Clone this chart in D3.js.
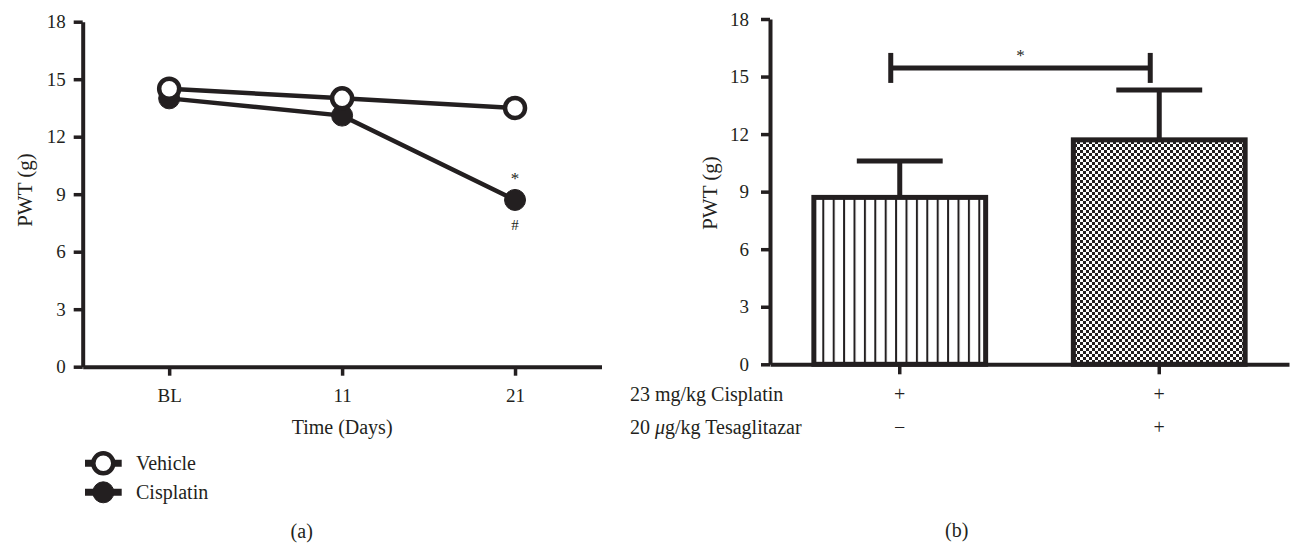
<!DOCTYPE html>
<html lang="en">

<head>
  <meta charset="UTF-8">
  <title>PWT</title>
  <style>
    * {
      padding: 0;
      margin: 0;
    }

    body {
      background: #fff;
    }

    svg text {
      font-family: "Liberation Serif", "Times New Roman", serif;
      fill: #231f20;
    }
  </style>
</head>

<body>
  <svg id="svg"></svg>
  <script src="https://cdnjs.cloudflare.com/ajax/libs/d3/7.8.5/d3.min.js"></script>
  <script>
    // panel (a)
    const days = ['BL', '11', '21']
    const vehicle = [14.5, 14.0, 13.5]
    const cisplatin = [14.0, 13.1, 8.7]
    const yTicks = [0, 3, 6, 9, 12, 15, 18]
    const seriesNames = ['Vehicle', 'Cisplatin']

    // panel (b)
    const groups = ['cis', 'cis+tesa']
    const barMeans = [8.7, 11.7]
    const barErrors = [1.9, 2.6]
    const cisplatinRow = ['+', '+']
    const tesaRow = ['\u2212', '+']
    const bracketValue = 15.45

    const ink = '#231f20'

    const svg = d3.select('#svg')
      .attr('width', 1290)
      .attr('height', 546)

    const defs = svg.append('defs')

    const stripes = defs.append('pattern')
      .attr('id', 'stripes')
      .attr('patternUnits', 'userSpaceOnUse')
      .attr('x', 822.3)
      .attr('y', 0)
      .attr('width', 10.4)
      .attr('height', 10)
    stripes.append('rect').attr('width', 10.4).attr('height', 10).attr('fill', '#fff')
    stripes.append('rect').attr('x', 0).attr('width', 2).attr('height', 10).attr('fill', ink)

    const checker = defs.append('pattern')
      .attr('id', 'checker')
      .attr('patternUnits', 'userSpaceOnUse')
      .attr('width', 6)
      .attr('height', 6)
    checker.append('rect').attr('width', 6).attr('height', 6).attr('fill', '#fff')
    checker.append('rect').attr('width', 3).attr('height', 3).attr('fill', ink)
    checker.append('rect').attr('x', 3).attr('y', 3).attr('width', 3).attr('height', 3).attr('fill', ink)

    function styleAxis(g, size) {
      g.select('.domain').attr('stroke', ink).attr('stroke-width', 4)
      g.selectAll('.tick line').attr('stroke', ink).attr('stroke-width', 3.5)
      g.selectAll('.tick text').attr('fill', ink).style('font-size', size + 'px')
        .style('font-family', '"Liberation Serif", serif')
    }

    // ---------- (a) line chart ----------
    const yA = d3.scaleLinear().domain([0, 18]).range([366.7, 21.7])
    const xA = d3.scalePoint().domain(days).range([82.7, 601.5]).padding(0.5)

    svg.append('g')
      .attr('transform', `translate(82.7,0)`)
      .call(d3.axisLeft(yA).tickValues(yTicks).tickSize(9).tickSizeOuter(0).tickPadding(8))
      .call(g => styleAxis(g, 19))

    svg.append('g')
      .attr('transform', `translate(0,366.7)`)
      .call(d3.axisBottom(xA).tickSize(9).tickSizeOuter(0).tickPadding(13))
      .call(g => styleAxis(g, 19))

    const line = d3.line()
      .x((d, i) => xA(days[i]))
      .y(d => yA(d))

    // cisplatin under vehicle
    svg.append('path')
      .datum(cisplatin)
      .attr('d', line)
      .attr('fill', 'none')
      .attr('stroke', ink)
      .attr('stroke-width', 4.5)

    svg.append('g')
      .selectAll('circle')
      .data(cisplatin)
      .join('circle')
      .attr('cx', (d, i) => xA(days[i]))
      .attr('cy', d => yA(d))
      .attr('r', 10.5)
      .attr('fill', ink)
      .attr('stroke', ink)
      .attr('stroke-width', 1)

    svg.append('path')
      .datum(vehicle)
      .attr('d', line)
      .attr('fill', 'none')
      .attr('stroke', ink)
      .attr('stroke-width', 4.5)

    svg.append('g')
      .selectAll('circle')
      .data(vehicle)
      .join('circle')
      .attr('cx', (d, i) => xA(days[i]))
      .attr('cy', d => yA(d))
      .attr('r', 10)
      .attr('fill', '#fff')
      .attr('stroke', ink)
      .attr('stroke-width', 4.5)

    const lastX = xA(days[2])
    const lastY = yA(cisplatin[2])
    svg.append('text')
      .attr('x', lastX)
      .attr('y', lastY - 16)
      .attr('text-anchor', 'middle')
      .style('font-size', '17px')
      .text('*')
    svg.append('text')
      .attr('x', lastX)
      .attr('y', lastY + 30)
      .attr('text-anchor', 'middle')
      .style('font-size', '15px')
      .text('#')

    svg.append('text')
      .attr('transform', 'translate(31.5,190) rotate(-90)')
      .attr('text-anchor', 'middle')
      .style('font-size', '21px')
      .text('PWT (g)')

    svg.append('text')
      .attr('x', xA('11'))
      .attr('y', 434)
      .attr('text-anchor', 'middle')
      .style('font-size', '20px')
      .text('Time (Days)')

    // legend
    const legend = svg.append('g')
      .selectAll('g')
      .data(seriesNames)
      .join('g')
      .attr('transform', (d, i) => `translate(0,${463.3 + i * 29})`)

    legend.append('line')
      .attr('x1', 85)
      .attr('x2', 121.7)
      .attr('stroke', ink)
      .attr('stroke-width', 7)
    legend.append('circle')
      .attr('cx', 103.3)
      .attr('r', (d, i) => i === 0 ? 10 : 10.5)
      .attr('fill', (d, i) => i === 0 ? '#fff' : ink)
      .attr('stroke', ink)
      .attr('stroke-width', (d, i) => i === 0 ? 4.5 : 1)
    legend.append('text')
      .attr('x', 136)
      .attr('y', 7)
      .style('font-size', '20px')
      .text(d => d)

    svg.append('text')
      .attr('x', 301.7)
      .attr('y', 538)
      .attr('text-anchor', 'middle')
      .style('font-size', '20px')
      .text('(a)')

    // ---------- (b) bar chart ----------
    const yB = d3.scaleLinear().domain([0, 18]).range([364.3, 19])
    const xB = d3.scaleBand().domain(groups).range([770, 1289])
      .paddingInner(0.338).paddingOuter(0.169)
    const mid = g => xB(g) + xB.bandwidth() / 2

    // error bars first so the bar outline covers the stem
    const errs = svg.append('g')
      .selectAll('g')
      .data(groups)
      .join('g')
    errs.append('line')
      .attr('x1', d => mid(d))
      .attr('x2', d => mid(d))
      .attr('y1', (d, i) => yB(barMeans[i]))
      .attr('y2', (d, i) => yB(barMeans[i] + barErrors[i]))
      .attr('stroke', ink)
      .attr('stroke-width', 5)
    errs.append('line')
      .attr('x1', d => mid(d) - xB.bandwidth() / 4)
      .attr('x2', d => mid(d) + xB.bandwidth() / 4)
      .attr('y1', (d, i) => yB(barMeans[i] + barErrors[i]))
      .attr('y2', (d, i) => yB(barMeans[i] + barErrors[i]))
      .attr('stroke', ink)
      .attr('stroke-width', 5)

    svg.append('g')
      .selectAll('rect')
      .data(groups)
      .join('rect')
      .attr('x', d => xB(d))
      .attr('y', (d, i) => yB(barMeans[i]))
      .attr('width', xB.bandwidth())
      .attr('height', (d, i) => yB(0) - yB(barMeans[i]))
      .attr('fill', (d, i) => i === 0 ? 'url(#stripes)' : 'url(#checker)')
      .attr('stroke', ink)
      .attr('stroke-width', 5)

    svg.append('g')
      .attr('transform', `translate(770,0)`)
      .call(d3.axisLeft(yB).tickValues(yTicks).tickSize(9).tickSizeOuter(0).tickPadding(12))
      .call(g => styleAxis(g, 19))

    svg.append('g')
      .attr('transform', `translate(0,364.3)`)
      .call(d3.axisBottom(xB).tickSize(10).tickSizeOuter(0).tickFormat(''))
      .call(g => styleAxis(g, 19))

    // significance bracket
    const bx1 = mid(groups[0]) - 9
    const bx2 = mid(groups[1]) - 9
    const by = yB(bracketValue)
    const bracket = svg.append('g')
      .attr('stroke', ink)
      .attr('stroke-width', 5)
    bracket.append('line').attr('x1', bx1).attr('x2', bx2).attr('y1', by).attr('y2', by)
    bracket.append('line').attr('x1', bx1).attr('x2', bx1).attr('y1', by - 15).attr('y2', by + 15)
    bracket.append('line').attr('x1', bx2).attr('x2', bx2).attr('y1', by - 15).attr('y2', by + 15)
    svg.append('text')
      .attr('x', (bx1 + bx2) / 2)
      .attr('y', by - 7)
      .attr('text-anchor', 'middle')
      .style('font-size', '17px')
      .text('*')

    svg.append('text')
      .attr('transform', 'translate(717,193) rotate(-90)')
      .attr('text-anchor', 'middle')
      .style('font-size', '21px')
      .text('PWT (g)')

    // treatment rows under the bars
    const rowLabel1 = svg.append('text')
      .attr('x', 630)
      .attr('y', 400.7)
      .style('font-size', '20px')
      .text('23 mg/kg Cisplatin')
    const rowLabel2 = svg.append('text')
      .attr('x', 630)
      .attr('y', 434)
      .style('font-size', '20px')
    rowLabel2.append('tspan').text('20 ')
    rowLabel2.append('tspan').style('font-style', 'italic').text('\u03bc')
    rowLabel2.append('tspan').text('g/kg Tesaglitazar')

    svg.append('g')
      .selectAll('text')
      .data(cisplatinRow)
      .join('text')
      .attr('x', (d, i) => mid(groups[i]))
      .attr('y', 400.7)
      .attr('text-anchor', 'middle')
      .style('font-size', '20px')
      .text(d => d)

    svg.append('g')
      .selectAll('text')
      .data(tesaRow)
      .join('text')
      .attr('x', (d, i) => mid(groups[i]))
      .attr('y', 434)
      .attr('text-anchor', 'middle')
      .style('font-size', '20px')
      .text(d => d)

    svg.append('text')
      .attr('x', 956.7)
      .attr('y', 537)
      .attr('text-anchor', 'middle')
      .style('font-size', '20px')
      .text('(b)')
  </script>
</body>

</html>
